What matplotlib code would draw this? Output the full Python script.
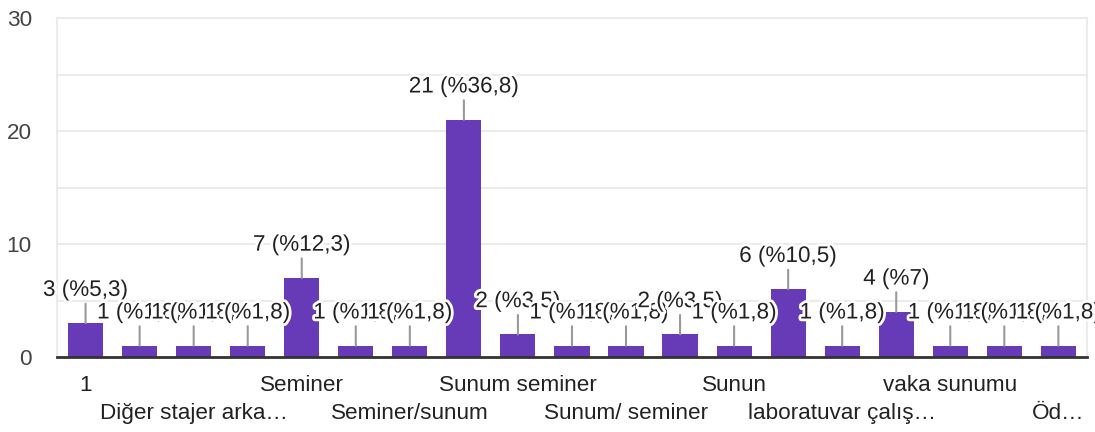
import numpy as np
import matplotlib.pyplot as plt
import matplotlib.patheffects as pe

#===========================
# DATA
#===========================
categories = ["1", "", "Diğer stajer arka…", "", "Seminer", "", "Seminer/sunum", "",
              "Sunum seminer", "", "Sunum/ seminer", "", "Sunun", "",
              "laboratuvar çalış…", "", "vaka sunumu", "", "Öd…"]
counts = [3, 1, 1, 1, 7, 1, 1, 21, 2, 1, 1, 2, 1, 6, 1, 4, 1, 1, 1]
yticks = [0, 10, 20, 30]

total = sum(counts)
BAR = '#673ab7'
FONT = 'Liberation Sans'
FS = 16.2

def pct_label(v):
    p = round(v * 100.0 / total, 1)
    s = ("%.1f" % p).replace('.', ',')
    if s.endswith(',0'):
        s = s[:-2]
    return "%d (%%%s)" % (v, s)

#===========================
# PLOT
#===========================
fig = plt.figure(figsize=(10.95, 4.32), dpi=100)
ax = fig.add_axes([0.052, 0.1736, 0.9407, 0.7847])

x = np.arange(len(counts))
ax.bar(x, counts, width=0.65, color=BAR, zorder=2)

ax.set_xlim(-0.53, len(counts) - 0.47)
ax.set_ylim(0, 30)

#***** grid *****
ax.set_yticks(yticks)
ax.set_yticks(np.arange(0, 31, 5), minor=True)
ax.grid(axis='y', which='both', color='#ebebeb', lw=1.5, zorder=0)
ax.tick_params(axis='both', which='both', length=0)
ax.set_yticklabels([str(t) for t in yticks], fontsize=FS, color='#444444', family=FONT)
ax.tick_params(axis='y', pad=18)

for s in ['left', 'right', 'top']:
    ax.spines[s].set_color('#ebebeb')
    ax.spines[s].set_linewidth(1.5)
ax.spines['bottom'].set_color('#333333')
ax.spines['bottom'].set_linewidth(2)
ax.spines['bottom'].set_zorder(3)

#***** category labels (two staggered rows) *****
ax.set_xticks(x)
lbls = []
for i, c in enumerate(categories):
    if i % 4 == 2:
        lbls.append("\n" + c)
    else:
        lbls.append(c)
ax.set_xticklabels(lbls, fontsize=FS, color='#222222', family=FONT, va='top')
for t in ax.get_xticklabels():
    t.set_linespacing(1.45)
ax.tick_params(axis='x', pad=13)

#***** value labels *****
for i, v in enumerate(counts):
    ax.annotate(pct_label(v), xy=(i, v), xytext=(0, 16), textcoords='offset points',
                ha='center', va='bottom', fontsize=FS, color='#222222', family=FONT,
                zorder=5 + i, annotation_clip=False,
                arrowprops=dict(arrowstyle='-', color='#999999', lw=1.5,
                                shrinkA=0, shrinkB=0),
                path_effects=[pe.withStroke(linewidth=4, foreground='white')])

fig.savefig('out.png', dpi=100)
